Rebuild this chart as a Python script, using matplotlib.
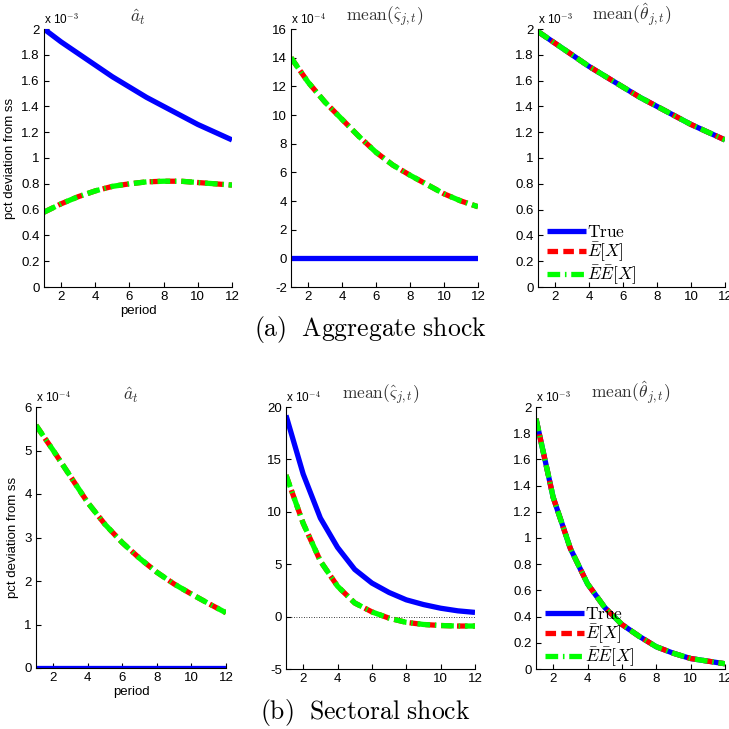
import numpy as np
import matplotlib.pyplot as plt
from matplotlib.ticker import FormatStrFormatter

plt.rcParams['font.family'] = ['Liberation Sans', 'DejaVu Sans']
plt.rcParams['mathtext.fontset'] = 'cm'

period = np.arange(1, 13)

# aggregate shock (units given by the multiplier above each panel)
agg_a_true = [2.00, 1.90, 1.81, 1.72, 1.63, 1.55, 1.47, 1.40, 1.33, 1.26, 1.20, 1.14]
agg_a_e = [0.58, 0.645, 0.70, 0.745, 0.78, 0.80, 0.815, 0.82, 0.82, 0.81, 0.80, 0.79]
agg_a_ee = [0.58, 0.645, 0.70, 0.745, 0.78, 0.80, 0.815, 0.82, 0.82, 0.81, 0.80, 0.79]
agg_s_true = [0, 0, 0, 0, 0, 0, 0, 0, 0, 0, 0, 0]
agg_s_e = [14.0, 12.3, 10.9, 9.7, 8.5, 7.4, 6.5, 5.8, 5.15, 4.5, 4.0, 3.6]
agg_s_ee = [14.0, 12.3, 10.9, 9.7, 8.5, 7.4, 6.5, 5.8, 5.15, 4.5, 4.0, 3.6]
agg_th_true = [1.98, 1.89, 1.80, 1.71, 1.63, 1.55, 1.47, 1.40, 1.33, 1.26, 1.20, 1.14]
agg_th_e = [1.98, 1.89, 1.80, 1.71, 1.63, 1.55, 1.47, 1.40, 1.33, 1.26, 1.20, 1.14]
agg_th_ee = [1.98, 1.89, 1.80, 1.71, 1.63, 1.55, 1.47, 1.40, 1.33, 1.26, 1.20, 1.14]

# sectoral shock
sec_a_true = [0, 0, 0, 0, 0, 0, 0, 0, 0, 0, 0, 0]
sec_a_e = [5.58, 5.0, 4.4, 3.8, 3.3, 2.88, 2.52, 2.2, 1.93, 1.70, 1.48, 1.27]
sec_a_ee = [5.58, 5.0, 4.4, 3.8, 3.3, 2.88, 2.52, 2.2, 1.93, 1.70, 1.48, 1.27]
sec_s_true = [19.2, 13.6, 9.4, 6.6, 4.5, 3.2, 2.3, 1.6, 1.15, 0.8, 0.55, 0.4]
sec_s_e = [13.5, 8.9, 5.3, 2.9, 1.3, 0.45, -0.15, -0.55, -0.75, -0.85, -0.9, -0.9]
sec_s_ee = [13.5, 8.9, 5.3, 2.9, 1.3, 0.45, -0.15, -0.55, -0.75, -0.85, -0.9, -0.9]
sec_th_true = [1.91, 1.31, 0.92, 0.65, 0.47, 0.34, 0.25, 0.17, 0.12, 0.08, 0.06, 0.04]
sec_th_e = [1.91, 1.31, 0.92, 0.65, 0.47, 0.34, 0.25, 0.17, 0.12, 0.08, 0.06, 0.04]
sec_th_ee = [1.91, 1.31, 0.92, 0.65, 0.47, 0.34, 0.25, 0.17, 0.12, 0.08, 0.06, 0.04]

titles = [r'$\hat{a}_t$', r'$\mathrm{mean}(\hat{\varsigma}_{j,t})$',
          r'$\mathrm{mean}(\hat{\theta}_{j,t})$']
legend_labels = [r'$\mathrm{True}$', r'$\bar{E}[X]$', r'$\bar{E}\bar{E}[X]$']

W = 729.0


def panel(rect_px, true, e, ee, title, yticks, expo, left=False, zero_line=False,
          legend=False):
    x0, x1, ytop, ybot = rect_px
    ax = fig.add_axes([x0 / W, 1 - ybot / W, (x1 - x0) / W, (ybot - ytop) / W])
    if zero_line:
        ax.axhline(0, color='k', lw=0.6, ls=(0, (1, 2)))
    l1, = ax.plot(period, true, color='#0000ff', lw=3.8, solid_capstyle='butt')
    l2, = ax.plot(period, e, color='#ff0000', lw=3.8, dashes=(2.0, 1.0))
    l3, = ax.plot(period, ee, color='#00ff00', lw=3.8, dashes=(2.4, 0.9, 0.3, 0.9))
    ax.set_xlim(1, 12)
    ax.set_xticks([2, 4, 6, 8, 10, 12])
    ax.set_ylim(yticks[0], yticks[-1])
    ax.set_yticks(yticks)
    ax.yaxis.set_major_formatter(FormatStrFormatter('%g'))
    ax.spines['top'].set_visible(False)
    ax.spines['right'].set_visible(False)
    ax.tick_params(direction='in', length=3.5, labelsize=9.5, pad=3)
    ax.set_title(title, fontsize=12.5, pad=5, color='#333333')
    ax.text(0, 1.008, r'x 10$^{%d}$' % expo, transform=ax.transAxes,
            ha='left', va='bottom', fontsize=8.5)
    if left:
        ax.set_xlabel('period', fontsize=9.5, labelpad=1)
        ax.set_ylabel('pct deviation from ss', fontsize=9.5, labelpad=4)
    if legend:
        ax.legend([l1, l2, l3], legend_labels, loc='lower left', frameon=False,
                  fontsize=12.5, handlelength=2.2, handletextpad=0.1,
                  labelspacing=0.0, borderaxespad=0.0, borderpad=0.0,
                  bbox_to_anchor=(0.05, 0.0))
    return ax


fig = plt.figure(figsize=(7.29, 7.29), dpi=100, facecolor='white')

# (a) aggregate shock
panel((44, 232, 29, 287), agg_a_true, agg_a_e, agg_a_ee, titles[0],
      np.round(np.arange(0, 2.01, 0.2), 1), -3, left=True)
panel((291, 478, 29, 287), agg_s_true, agg_s_e, agg_s_ee, titles[1],
      np.arange(-2, 17, 2), -4)
panel((538, 725, 29, 287), agg_th_true, agg_th_e, agg_th_ee, titles[2],
      np.round(np.arange(0, 2.01, 0.2), 1), -3, legend=True)

# (b) sectoral shock
panel((36, 226, 407, 668), sec_a_true, sec_a_e, sec_a_ee, titles[0],
      np.arange(0, 7, 1), -4, left=True)
panel((286, 475, 407, 669), sec_s_true, sec_s_e, sec_s_ee, titles[1],
      np.arange(-5, 21, 5), -4, zero_line=True)
panel((536, 725, 407, 669), sec_th_true, sec_th_e, sec_th_ee, titles[2],
      np.round(np.arange(0, 2.01, 0.2), 1), -3, legend=True)

fig.text(370 / W, 1 - 330 / W, r'$\mathrm{(a)\ \ Aggregate\ shock}$',
         ha='center', va='center', fontsize=18.5)
fig.text(365 / W, 1 - 713 / W, r'$\mathrm{(b)\ \ Sectoral\ shock}$',
         ha='center', va='center', fontsize=18.5)

fig.savefig('out.png', dpi=100)
